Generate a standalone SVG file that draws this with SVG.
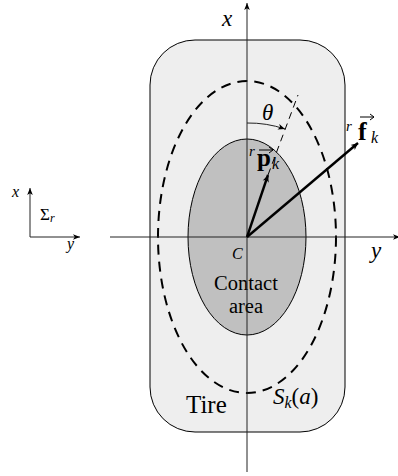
<svg xmlns="http://www.w3.org/2000/svg" width="398" height="476" viewBox="0 0 398 476">
<style>
text{font-family:"Liberation Serif","DejaVu Serif",serif;fill:#000}
.m{font-style:italic}
.ax{stroke:#222;stroke-width:1;fill:none}
.vec{stroke:#000;stroke-width:2.4;fill:none}
.ov{stroke:#000;stroke-width:1;fill:none}
</style>
<defs>
<marker id="ah" markerWidth="8" markerHeight="8" refX="7" refY="4" orient="auto" markerUnits="userSpaceOnUse">
<path d="M0,0.8 L7,4 L0,7.2 L2,4 Z" fill="#000"/>
</marker>
<marker id="ahs" markerWidth="8" markerHeight="8" refX="7" refY="4" orient="auto" markerUnits="userSpaceOnUse">
<path d="M0,1.2 L7,4 L0,6.8 L1.8,4 Z" fill="#000"/>
</marker>
</defs>
<g id="tire">
<rect x="150" y="40" width="195" height="392" rx="45" ry="45" fill="#eeeeee" stroke="#000" stroke-width="1"/>
<text x="186" y="413" font-size="25">Tire</text>
</g>
<g id="ellipse-S">
<ellipse cx="247" cy="237" rx="89" ry="156" fill="none" stroke="#000" stroke-width="2" stroke-dasharray="10,7"/>
<text x="273" y="404" font-size="23" class="m">S<tspan font-size="16" dy="4">k</tspan><tspan dy="-4" font-style="normal">(</tspan>a<tspan font-style="normal">)</tspan></text>
</g>
<g id="contact-area">
<ellipse cx="247" cy="237" rx="59" ry="98" fill="#c0c0c0" stroke="#000" stroke-width="1"/>
<text x="232" y="259" font-size="16" class="m">C</text>
<text x="246" y="290" font-size="20.5" text-anchor="middle">Contact</text>
<text x="246" y="313" font-size="20.5" text-anchor="middle">area</text>
</g>
<g id="connectors">
<line class="ax" x1="247" y1="472" x2="247" y2="3" marker-end="url(#ahs)"/>
<line class="ax" x1="110" y1="237" x2="400" y2="237" marker-end="url(#ahs)"/>
<line x1="268" y1="175" x2="298" y2="95" stroke="#000" stroke-width="1" stroke-dasharray="7,5"/>
<path d="M247,123 A114,114 0 0 1 285,129" class="ax" stroke="#000" marker-end="url(#ahs)"/>
<line class="vec" x1="247" y1="237" x2="268" y2="175" marker-end="url(#ah)"/>
<line class="vec" x1="247" y1="237" x2="358" y2="143" marker-end="url(#ah)"/>
<line class="ax" x1="30" y1="237" x2="30" y2="188" marker-end="url(#ahs)"/>
<line class="ax" x1="30" y1="237" x2="80" y2="237" marker-end="url(#ahs)"/>
</g>
<g id="labels">
<text x="222" y="26" font-size="23" class="m">x</text>
<text x="371" y="258" font-size="23" class="m">y</text>
<text x="262" y="120" font-size="23" class="m">θ</text>
<text x="249" y="156" font-size="15" class="m">r</text>
<text x="257" y="166" font-size="25" font-weight="bold">p</text>
<path class="ov" d="M259,150 L273,150 M269,147 L273,150 L269,153"/>
<text x="272" y="169" font-size="16" class="m">k</text>
<text x="346" y="131" font-size="15" class="m">r</text>
<text x="358" y="140" font-size="26" font-weight="bold">f</text>
<path class="ov" d="M360,117 L374,117 M370,114 L374,117 L370,120"/>
<text x="371" y="143" font-size="16" class="m">k</text>
<text x="12" y="197" font-size="16" class="m">x</text>
<text x="40" y="220" font-size="17">Σ<tspan font-size="12" class="m" dy="2">r</tspan></text>
<text x="67" y="249" font-size="16" class="m">y</text>
</g>
</svg>
